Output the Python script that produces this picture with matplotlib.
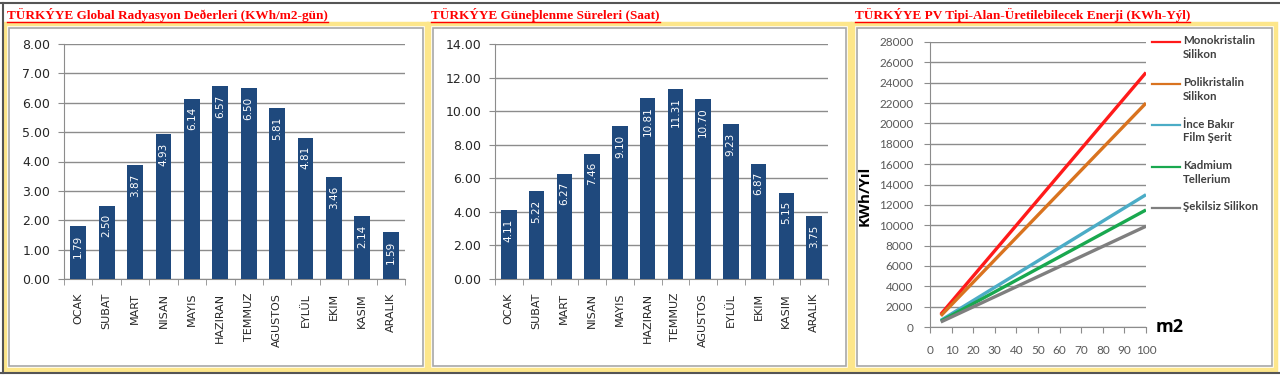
import matplotlib
matplotlib.use("Agg")
import matplotlib.pyplot as plt
from matplotlib.patches import Rectangle

# ---- data ----
months = ["OCAK", "SUBAT", "MART", "NISAN", "MAYIS", "HAZIRAN", "TEMMUZ",
          "AGUSTOS", "EYLÜL", "EKIM", "KASIM", "ARALIK"]
radiation = [1.79, 2.50, 3.87, 4.93, 6.14, 6.57, 6.50, 5.81, 4.81, 3.46, 2.14, 1.59]
sunshine = [4.11, 5.22, 6.27, 7.46, 9.10, 10.81, 11.31, 10.70, 9.23, 6.87, 5.15, 3.75]

area = [5, 10, 20, 30, 40, 50, 60, 70, 80, 90, 100]
mono = [1250, 2500, 5000, 7500, 10000, 12500, 15000, 17500, 20000, 22500, 25000]
poly = [1100, 2200, 4400, 6600, 8800, 11000, 13200, 15400, 17600, 19800, 22000]
thin_cu = [650, 1300, 2600, 3900, 5200, 6500, 7800, 9100, 10400, 11700, 13000]
cdte = [575, 1150, 2300, 3450, 4600, 5750, 6900, 8050, 9200, 10350, 11500]
amorph = [495, 990, 1980, 2970, 3960, 4950, 5940, 6930, 7920, 8910, 9900]

pv_series = [
    ("Monokristalin\nSilikon", mono, "#ff1a1a"),
    ("Polikristalin\nSilikon", poly, "#d9731f"),
    ("İnce Bakır\nFilm Şerit", thin_cu, "#4bacc6"),
    ("Kadmium\nTellerium", cdte, "#19a84f"),
    ("Şekilsiz Silikon", amorph, "#7f7f7f"),
]

titles = [
    "TÜRKÝYE Global Radyasyon Deðerleri (KWh/m2-gün)",
    "TÜRKÝYE Güneþlenme Süreleri (Saat)",
    "TÜRKÝYE PV Tipi-Alan-Üretilebilecek Enerji (KWh-Yýl)",
]

W, H = 1280, 383
BAR = "#1f497d"
GRID = "#8c8c8c"

fig = plt.figure(figsize=(W / 100, H / 100), dpi=100)
fig.patch.set_facecolor("white")

# background layer in pixel coords for frames, titles and legend
bg = fig.add_axes([0, 0, 1, 1])
bg.set_xlim(0, W)
bg.set_ylim(H, 0)
bg.axis("off")

bg.plot([0, W], [3, 3], color="#555555", lw=1.5)
bg.plot([0, W], [373, 373], color="#555555", lw=1.5)
bg.plot([3, 3], [3, 373], color="#555555", lw=1.5)

frames = [(5, 427), (429, 850), (853, 1276)]
for x0, x1 in frames:
    bg.add_patch(Rectangle((x0, 24), x1 - x0, 346, fill=False,
                           ec="#fde68a", lw=3.2))
    bg.add_patch(Rectangle((x0 + 4, 28), x1 - x0 - 8, 338, fill=False,
                           ec="#a8a8a8", lw=1.2))

fig.canvas.draw()
renderer = fig.canvas.get_renderer()
for (x0, _), title in zip(frames, titles):
    t = bg.text(x0 + 2, 19, title, color="red", fontsize=9.5,
                fontweight="bold", family="Liberation Serif", va="baseline")
    ext = t.get_window_extent(renderer)
    bg.plot([ext.x0, ext.x1], [21.5, 21.5], color="red", lw=1)


def px_axes(x0, y0, x1, y1):
    return fig.add_axes([x0 / W, 1 - y1 / H, (x1 - x0) / W, (y1 - y0) / H])


def bar_panel(ax, values, ymax, step):
    pos = range(len(values))
    bars = ax.bar(pos, values, width=0.56, color=BAR, zorder=3)
    for b, v in zip(bars, values):
        ax.annotate(f"{v:.2f}", (b.get_x() + b.get_width() / 2, v),
                    xytext=(0, -6), textcoords="offset points",
                    rotation=90, ha="center", va="top", color="white",
                    fontsize=7.5, zorder=4)
    ax.set_xlim(-0.5, len(values) - 0.5)
    ax.set_ylim(0, ymax)
    ax.set_yticks([i * step for i in range(int(ymax / step) + 1)])
    ax.yaxis.set_major_formatter(lambda y, _: f"{y:.2f}")
    ax.set_xticks(list(pos))
    ax.set_xticklabels(months, rotation=90, fontsize=8, color="#262626")
    ax.set_xticks([i - 0.5 for i in range(len(values) + 1)], minor=True)
    ax.tick_params(axis="x", which="major", length=0, pad=10)
    ax.tick_params(axis="x", which="minor", length=4, color=GRID, direction="out")
    ax.tick_params(axis="y", length=4, color=GRID, pad=6, labelsize=9,
                   labelcolor="#262626")
    ax.grid(axis="y", color=GRID, lw=1, zorder=0)
    for s in ("top", "right"):
        ax.spines[s].set_visible(False)
    for s in ("left", "bottom"):
        ax.spines[s].set_color(GRID)


ax1 = px_axes(64, 44, 405, 279)
bar_panel(ax1, radiation, 8, 1)
ax2 = px_axes(495, 44, 828, 279)
bar_panel(ax2, sunshine, 14, 2)

# ---- PV panel ----
ax3 = px_axes(930, 42, 1146, 327)
for label, vals, color in pv_series:
    ax3.plot(area, vals, color=color, lw=2.4, solid_capstyle="butt", zorder=3)
ax3.set_xlim(0, 100)
ax3.set_ylim(0, 28000)
ax3.set_xticks(range(0, 101, 10))
ax3.set_yticks(range(0, 28001, 2000))
ax3.tick_params(length=4, color=GRID, labelsize=8.5, labelcolor="#595959")
ax3.tick_params(axis="y", pad=8)
ax3.tick_params(axis="x", pad=9)
for lab in ax3.get_xticklabels() + ax3.get_yticklabels():
    lab.set_family("Lato")
ax3.grid(axis="y", color=GRID, lw=1, zorder=0)
for s in ("top", "right"):
    ax3.spines[s].set_visible(False)
for s in ("left", "bottom"):
    ax3.spines[s].set_color(GRID)
ax3.set_ylabel("KWh/Yıl", fontsize=11, fontweight="bold", family="Open Sans")
ax3.yaxis.set_label_coords(-0.27, 0.46)
ax3.text(1.045, 0.0, "m2", transform=ax3.transAxes, fontsize=13,
         fontweight="bold", family="Open Sans", va="center", ha="left")

# legend drawn by hand so each line sits on the first text line
for i, (label, vals, color) in enumerate(pv_series):
    y = 42 + i * 41.5
    bg.plot([1152, 1180], [y, y], color=color, lw=1.6)
    bg.text(1183, y - 6.5, label, fontsize=8.3, fontweight="bold",
            family="Lato", color="#404040", va="top", linespacing=1.3)

fig.savefig("out.png", dpi=100)
